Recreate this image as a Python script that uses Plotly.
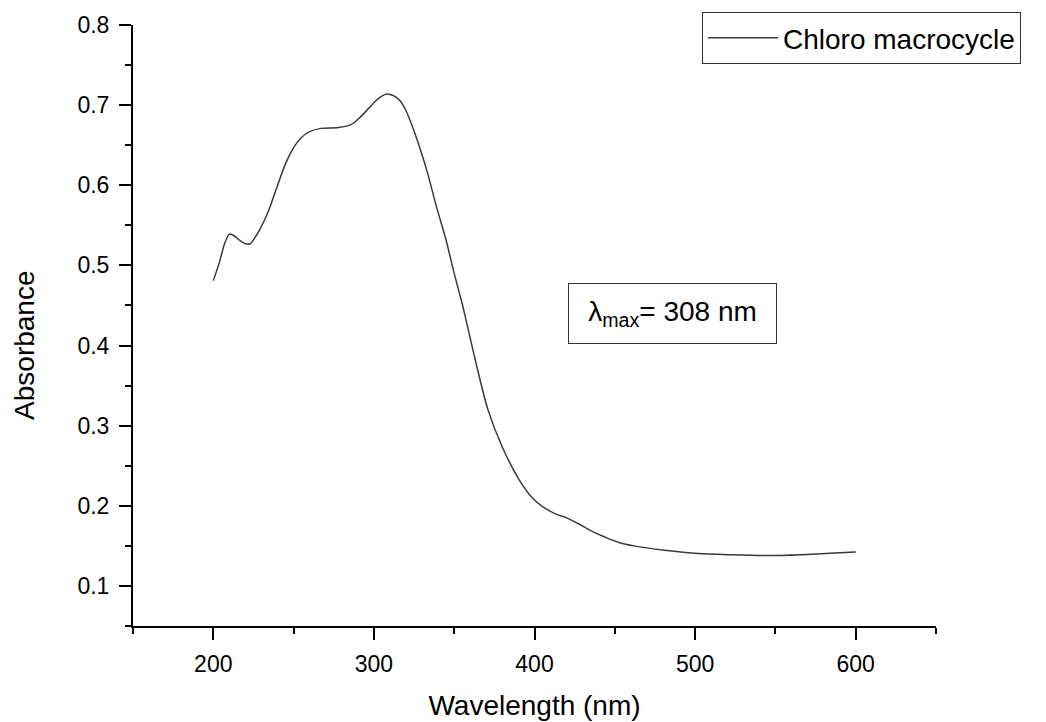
import plotly.graph_objects as go

# UV-Vis absorption spectrum of the chloro macrocycle
wavelength_nm = [200, 204, 207, 210, 213, 216, 220, 223, 226, 229, 234, 239, 245, 251,
                 255, 260, 267, 278, 286, 292, 300, 304, 308, 312, 316, 320, 326, 333,
                 339, 345, 350, 355, 363, 371, 380, 390, 399, 405, 413, 420, 428, 436,
                 445, 453, 462, 481, 502, 523, 544, 566, 587, 600]
absorbance = [0.481, 0.505, 0.527, 0.539, 0.537, 0.532, 0.527, 0.527, 0.535, 0.545,
              0.566, 0.594, 0.627, 0.650, 0.660, 0.667, 0.671, 0.672, 0.676, 0.686,
              0.703, 0.710, 0.714, 0.712, 0.706, 0.693, 0.662, 0.618, 0.573, 0.531,
              0.490, 0.452, 0.383, 0.320, 0.273, 0.234, 0.209, 0.199, 0.190, 0.185,
              0.177, 0.168, 0.160, 0.154, 0.150, 0.1446, 0.1404, 0.1388, 0.1379,
              0.1390, 0.1410, 0.1425]

series_name = "Chloro macrocycle"
lambda_max_nm = 308

FONT = "Arial, Liberation Sans, sans-serif"

fig = go.Figure()
fig.add_trace(go.Scatter(
    x=wavelength_nm, y=absorbance, mode="lines", name=series_name,
    line=dict(color="#3a3a3a", width=1.5, shape="spline", smoothing=0.8),
    showlegend=True,
))

axis_common = dict(
    showline=True, linecolor="black", linewidth=2,
    ticks="outside", ticklen=12, tickwidth=2, tickcolor="black",
    showgrid=False, zeroline=False, mirror=False, automargin=False,
    tickfont=dict(family=FONT, size=23, color="black"),
)

fig.update_xaxes(
    range=[150, 650], tick0=0, dtick=100,
    minor=dict(dtick=50, ticks="outside", ticklen=6, tickwidth=2, tickcolor="black"),
    title=dict(text="Wavelength (nm)", font=dict(family=FONT, size=28, color="black"),
               standoff=20),
    ticklabelstandoff=4,
    **axis_common,
)
fig.update_yaxes(
    range=[0.05, 0.8], tick0=0, dtick=0.1, tickformat=".1f",
    minor=dict(dtick=0.05, ticks="outside", ticklen=6, tickwidth=2, tickcolor="black"),
    ticklabelstandoff=5,
    **axis_common,
)

fig.add_annotation(
    text="Absorbance", xref="paper", yref="paper", x=0, y=0.466,
    xshift=-108, xanchor="center", yanchor="middle", textangle=-90,
    showarrow=False, font=dict(family=FONT, size=28, color="black"),
)

fig.add_annotation(
    text=f"λ<sub>max</sub>= {lambda_max_nm} nm", xref="x", yref="y",
    x=485.9, y=0.4394, xanchor="center", yanchor="middle",
    showarrow=False, width=207, height=59, borderpad=0,
    bordercolor="#333", borderwidth=1, bgcolor="white",
    font=dict(family=FONT, size=28, color="black"),
)

fig.update_layout(
    width=1046, height=722,
    margin=dict(l=133, r=110, t=25, b=96),
    paper_bgcolor="white", plot_bgcolor="white",
    showlegend=True,
    legend=dict(
        x=0.7086, y=1.0216, xanchor="left", yanchor="top",
        bordercolor="#333", borderwidth=1, bgcolor="white",
        font=dict(family=FONT, size=28, color="black"),
        itemwidth=70, tracegroupgap=0,
    ),
)

fig.write_html("out.html")
